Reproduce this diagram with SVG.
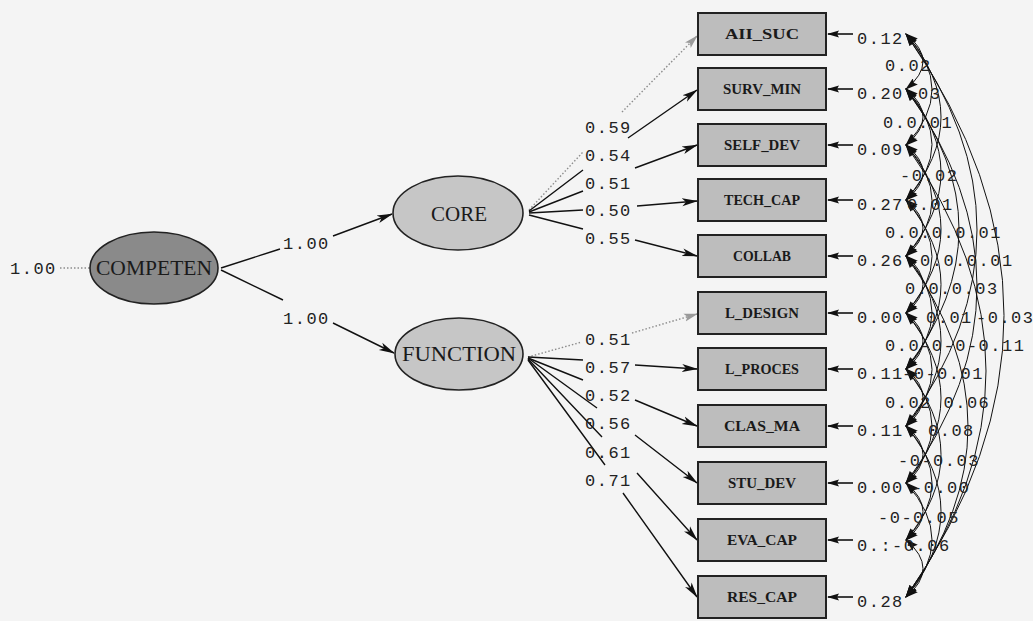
<svg xmlns="http://www.w3.org/2000/svg" width="1033" height="621" viewBox="0 0 1033 621">
  <style>
    .bg { fill: #f4f4f4; }
    .box { fill: #bdbdbd; stroke: #222; stroke-width: 2; }
    .lat { fill: #c6c6c6; stroke: #222; stroke-width: 1.6; }
    .lat-dark { fill: #8a8a8a; stroke: #222; stroke-width: 1.6; }
    .obs-label { font-family: "Liberation Serif", serif; font-size: 14px; font-weight: bold; fill: #1a1a1a; text-anchor: middle; }
    .lat-label { font-family: "Liberation Serif", serif; font-size: 21px; fill: #1a1a1a; text-anchor: middle; }
    .num { font-family: "Liberation Mono", monospace; font-size: 17px; letter-spacing: 1.5px; fill: #222; }
    .path { fill: none; stroke: #111; stroke-width: 1.4; marker-end: url(#head); }
    .fixed { fill: none; stroke: #8c8c8c; stroke-width: 1.4; stroke-dasharray: 1.5 2; marker-end: url(#headGray); }
    .err { fill: none; stroke: #111; stroke-width: 1.6; marker-end: url(#headSmall); }
    .cov { fill: none; stroke: #111; stroke-width: 1; marker-start: url(#headCov); marker-end: url(#headCov); }
  </style>
  <defs>
    <marker id="head" markerUnits="userSpaceOnUse" markerWidth="16" markerHeight="10" viewBox="0 0 16 10" refX="15" refY="5" orient="auto">
      <path d="M0,1 L16,5 L0,9 L4,5 z" fill="#111"/>
    </marker>
    <marker id="headGray" markerUnits="userSpaceOnUse" markerWidth="14" markerHeight="10" viewBox="0 0 14 10" refX="13" refY="5" orient="auto">
      <path d="M0,1 L14,5 L0,9 L3,5 z" fill="#9a9a9a"/>
    </marker>
    <marker id="headSmall" markerUnits="userSpaceOnUse" markerWidth="12" markerHeight="8" viewBox="0 0 12 8" refX="11" refY="4" orient="auto">
      <path d="M0,0.5 L12,4 L0,7.5 L2,4 z" fill="#111"/>
    </marker>
    <marker id="headCov" markerUnits="userSpaceOnUse" markerWidth="13" markerHeight="8" viewBox="0 0 13 8" refX="12" refY="4" orient="auto-start-reverse">
      <path d="M0,0 L13,4 L0,8 L2,4 z" fill="#111"/>
    </marker>
  </defs>

  <rect class="bg" x="0" y="0" width="1033" height="621"/>

  <!-- connectors: structural paths, loadings, error terms, error covariances -->
  <g id="connectors">
    <path d="M60,268 L90,268" fill="none" stroke="#8c8c8c" stroke-width="1.4" stroke-dasharray="1.5 2"/>
    <path class="path" d="M221,268 L280,249 M333,236 L392,214"/>
    <path class="path" d="M221,270 L283,300 M333,323 L394,353"/>

    <path class="fixed" d="M529,210 L583,152 M622,112 L697,36"/>
    <path class="path" d="M529,211 L583,170 M628,138 L697,90"/>
    <path class="path" d="M529,212 L583,191 M635,168 L697,145"/>
    <path class="path" d="M529,213 L583,210 M637,206 L697,201"/>
    <path class="path" d="M529,215 L583,229 M635,240 L697,256"/>

    <path class="fixed" d="M528,357 L582,342 M632,333 L697,314"/>
    <path class="path" d="M528,357 L583,360 M635,365 L697,369"/>
    <path class="path" d="M528,358 L583,380 M635,400 L697,426"/>
    <path class="path" d="M528,358 L597,408 M635,435 L697,483"/>
    <path class="path" d="M528,359 L602,437 M637,473 L697,540"/>
    <path class="path" d="M528,360 L605,465 M623,493 L697,597"/>

    <path class="err" d="M853,34 L828,34"/>
    <path class="err" d="M853,89 L828,89"/>
    <path class="err" d="M853,145 L828,145"/>
    <path class="err" d="M853,200 L828,200"/>
    <path class="err" d="M853,256 L828,256"/>
    <path class="err" d="M853,313 L828,313"/>
    <path class="err" d="M853,369 L828,369"/>
    <path class="err" d="M853,426 L828,426"/>
    <path class="err" d="M853,483 L828,483"/>
    <path class="err" d="M853,540 L828,540"/>
    <path class="err" d="M853,597 L828,597"/>

    <g id="error-covariances">
      <path class="cov" d="M906,34 Q940,61.5 906,89"/>
      <path class="cov" d="M906,89 Q940,117 906,145"/>
      <path class="cov" d="M906,145 Q940,172.5 906,200"/>
      <path class="cov" d="M906,200 Q940,228 906,256"/>
      <path class="cov" d="M906,256 Q940,284.5 906,313"/>
      <path class="cov" d="M906,313 Q940,341 906,369"/>
      <path class="cov" d="M906,369 Q940,397.5 906,426"/>
      <path class="cov" d="M906,426 Q940,454.5 906,483"/>
      <path class="cov" d="M906,483 Q940,511.5 906,540"/>
      <path class="cov" d="M906,540 Q940,568.5 906,597"/>

      <path class="cov" d="M906,34 Q958,89.5 906,145"/>
      <path class="cov" d="M906,89 Q958,144.5 906,200"/>
      <path class="cov" d="M906,145 Q958,200.5 906,256"/>
      <path class="cov" d="M906,200 Q958,256.5 906,313"/>
      <path class="cov" d="M906,256 Q958,312.5 906,369"/>
      <path class="cov" d="M906,313 Q958,369.5 906,426"/>
      <path class="cov" d="M906,369 Q958,426 906,483"/>
      <path class="cov" d="M906,426 Q958,483 906,540"/>
      <path class="cov" d="M906,483 Q958,540 906,597"/>

      <path class="cov" d="M906,34 Q976,117 906,200"/>
      <path class="cov" d="M906,89 Q976,172.5 906,256"/>
      <path class="cov" d="M906,145 Q976,229 906,313"/>
      <path class="cov" d="M906,200 Q976,284.5 906,369"/>
      <path class="cov" d="M906,256 Q976,341 906,426"/>
      <path class="cov" d="M906,313 Q976,398 906,483"/>
      <path class="cov" d="M906,369 Q976,454.5 906,540"/>
      <path class="cov" d="M906,426 Q976,511.5 906,597"/>

      <path class="cov" d="M906,34 Q1048,230 906,426"/>
      <path class="cov" d="M906,89 Q1048,286 906,483"/>
      <path class="cov" d="M906,89 Q1012,229 906,369"/>
      <path class="cov" d="M906,34 Q1102,315.5 906,597"/>
      <path class="cov" d="M906,145 Q1066,371 906,597"/>
      <path class="cov" d="M906,256 Q1030,426.5 906,597"/>
    </g>
  </g>

  <!-- latent variables -->
  <g id="node-competen">
    <ellipse class="lat-dark" cx="154" cy="268" rx="64" ry="36"/>
    <text class="lat-label" x="154" y="275" textLength="116" lengthAdjust="spacingAndGlyphs">COMPETEN</text>
  </g>
  <g id="node-core">
    <ellipse class="lat" cx="458" cy="213" rx="65" ry="37"/>
    <text class="lat-label" x="459" y="221" textLength="56" lengthAdjust="spacingAndGlyphs">CORE</text>
  </g>
  <g id="node-function">
    <ellipse class="lat" cx="459" cy="354" rx="64" ry="36"/>
    <text class="lat-label" x="459" y="361" textLength="114" lengthAdjust="spacingAndGlyphs">FUNCTION</text>
  </g>

  <!-- observed indicators -->
  <g id="node-aii-suc"><rect class="box" x="698" y="13" width="128" height="42"/><text class="obs-label" x="762" y="39" textLength="74" lengthAdjust="spacingAndGlyphs">AII_SUC</text></g>
  <g id="node-surv-min"><rect class="box" x="698" y="68" width="128" height="42"/><text class="obs-label" x="762" y="94" textLength="78" lengthAdjust="spacingAndGlyphs">SURV_MIN</text></g>
  <g id="node-self-dev"><rect class="box" x="698" y="124" width="128" height="42"/><text class="obs-label" x="762" y="150" textLength="76" lengthAdjust="spacingAndGlyphs">SELF_DEV</text></g>
  <g id="node-tech-cap"><rect class="box" x="698" y="179" width="128" height="42"/><text class="obs-label" x="762" y="205" textLength="76" lengthAdjust="spacingAndGlyphs">TECH_CAP</text></g>
  <g id="node-collab"><rect class="box" x="698" y="235" width="128" height="42"/><text class="obs-label" x="762" y="261" textLength="58" lengthAdjust="spacingAndGlyphs">COLLAB</text></g>
  <g id="node-l-design"><rect class="box" x="698" y="292" width="128" height="42"/><text class="obs-label" x="762" y="318" textLength="74" lengthAdjust="spacingAndGlyphs">L_DESIGN</text></g>
  <g id="node-l-proces"><rect class="box" x="698" y="348" width="128" height="42"/><text class="obs-label" x="762" y="374" textLength="74" lengthAdjust="spacingAndGlyphs">L_PROCES</text></g>
  <g id="node-clas-ma"><rect class="box" x="698" y="405" width="128" height="42"/><text class="obs-label" x="762" y="431" textLength="76" lengthAdjust="spacingAndGlyphs">CLAS_MA</text></g>
  <g id="node-stu-dev"><rect class="box" x="698" y="462" width="128" height="42"/><text class="obs-label" x="762" y="488" textLength="68" lengthAdjust="spacingAndGlyphs">STU_DEV</text></g>
  <g id="node-eva-cap"><rect class="box" x="698" y="519" width="128" height="42"/><text class="obs-label" x="762" y="545" textLength="70" lengthAdjust="spacingAndGlyphs">EVA_CAP</text></g>
  <g id="node-res-cap"><rect class="box" x="698" y="576" width="128" height="42"/><text class="obs-label" x="762" y="602" textLength="70" lengthAdjust="spacingAndGlyphs">RES_CAP</text></g>

  <!-- path coefficients -->
  <g id="labels">
    <text class="num" x="10" y="274">1.00</text>
    <text class="num" x="283" y="249">1.00</text>
    <text class="num" x="283" y="324">1.00</text>

    <text class="num" x="585" y="133">0.59</text>
    <text class="num" x="585" y="161">0.54</text>
    <text class="num" x="585" y="189">0.51</text>
    <text class="num" x="585" y="216">0.50</text>
    <text class="num" x="585" y="244">0.55</text>

    <text class="num" x="585" y="345">0.51</text>
    <text class="num" x="585" y="373">0.57</text>
    <text class="num" x="585" y="401">0.52</text>
    <text class="num" x="585" y="429">0.56</text>
    <text class="num" x="585" y="458">0.61</text>
    <text class="num" x="585" y="486">0.71</text>

    <!-- error variances -->
    <text class="num" x="857" y="44">0.12</text>
    <text class="num" x="857" y="99">0.20</text>
    <text class="num" x="857" y="155">0.09</text>
    <text class="num" x="857" y="210">0.27</text>
    <text class="num" x="857" y="266">0.26</text>
    <text class="num" x="857" y="323">0.00</text>
    <text class="num" x="857" y="379">0.11</text>
    <text class="num" x="857" y="436">0.11</text>
    <text class="num" x="857" y="493">0.00</text>
    <text class="num" x="857" y="551">0.:-0.06</text>
    <text class="num" x="857" y="607">0.28</text>

    <!-- error covariances -->
    <text class="num" x="885" y="71">0.02</text>
    <text class="num" x="918" y="99">03</text>
    <text class="num" x="883" y="128">0.0.01</text>
    <text class="num" x="900" y="181">-0.02</text>
    <text class="num" x="907" y="210">0.01</text>
    <text class="num" x="885" y="238">0.0.0.0.01</text>
    <text class="num" x="920" y="266">0.0.0.01</text>
    <text class="num" x="905" y="294">0.0.0.03</text>
    <text class="num" x="926" y="323">0.01</text>
    <text class="num" x="976" y="323">-0.03</text>
    <text class="num" x="885" y="351">0.0-0-0-0.11</text>
    <text class="num" x="902" y="379">-0-0.01</text>
    <text class="num" x="885" y="408">0.02 0.06</text>
    <text class="num" x="928" y="436">0.08</text>
    <text class="num" x="898" y="466">-0-0.03</text>
    <text class="num" x="912" y="493">-0.00</text>
    <text class="num" x="878" y="523">-0-0.05</text>
  </g>
</svg>
